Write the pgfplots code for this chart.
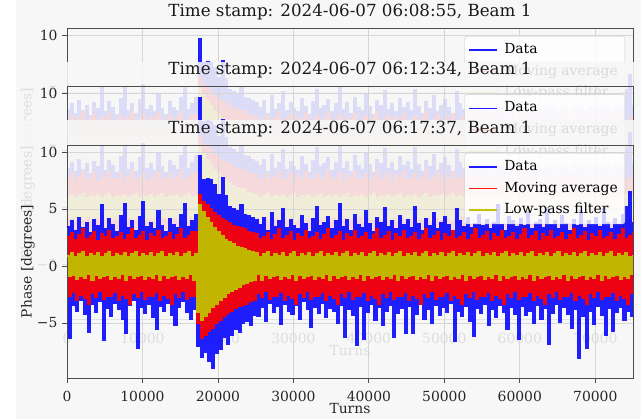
\documentclass[border=0pt]{standalone}
\usepackage{fontspec}
\setmainfont{DejaVu Serif}
\usepackage{pgfplots}
\usepackage{pgfplotstable}
\pgfplotsset{compat=1.18}

\newcommand\tickfont{\fontsize{13.95}{16}\selectfont}
\newcommand\titfont{\fontsize{16.76}{20}\selectfont}

\definecolor{mplblue}{rgb}{0,0,1}
\definecolor{mplred}{rgb}{1,0,0}
\definecolor{mplyellow}{rgb}{0.75,0.75,0}

% turn, raw phase, moving average, low-pass filtered phase
\pgfplotstableread{
x d m l
0 3.4 2.5 0.9
250 -6.3 -2.6 -0.9
500 3.9 2.9 1.1
750 -3.4 -2.3 -0.8
1000 3.1 2.3 0.8
1250 -3.9 -3.0 -1.1
1500 4.2 2.7 1.0
1750 -3.0 -2.5 -0.9
2000 3.3 3.2 1.2
2250 -4.2 -2.8 -1.0
2500 3.8 2.4 0.8
2750 -5.8 -3.3 -0.7
3000 2.9 2.6 1.0
3250 -3.3 -2.4 -1.2
3500 4.0 3.0 0.9
3750 -4.0 -2.7 -0.8
4000 3.5 2.2 1.1
4250 -3.1 -2.2 -1.0
4500 5.3 2.8 0.8
4750 -6.5 -2.9 -0.9
5000 3.2 2.5 1.0
5250 -3.7 -2.6 -0.8
5500 4.1 3.1 1.2
5750 -4.4 -2.6 -1.1
6000 3.6 2.4 0.8
6250 -3.2 -2.3 -0.9
6500 3.0 2.5 1.0
6750 -3.8 -3.0 -1.0
7000 4.4 2.9 0.9
7250 -4.6 -2.5 -0.7
7500 5.4 2.3 1.1
7750 -5.9 -2.8 -1.2
8000 3.3 2.7 0.8
8250 -3.4 -3.3 -0.8
8500 3.9 3.2 1.0
8750 -3.0 -2.4 -1.0
9000 3.1 2.4 1.2
9250 -7.2 -2.7 -0.9
9500 4.3 2.6 0.8
9750 -3.6 -2.2 -0.8
10000 5.6 3.0 1.0
10250 -4.1 -2.9 -1.1
10500 3.4 2.2 0.9
10750 -3.3 -2.6 -0.9
11000 3.8 2.8 1.1
11250 -4.5 -2.6 -1.0
11500 3.2 2.5 0.8
11750 -5.5 -2.3 -0.7
12000 4.8 3.1 1.0
12250 -3.5 -3.0 -1.2
12500 3.5 2.4 1.2
12750 -3.9 -2.5 -0.8
13000 3.0 2.5 0.8
13250 -3.2 -2.8 -1.0
13500 4.1 2.9 1.0
13750 -4.3 -3.3 -0.9
14000 3.6 2.3 0.9
14250 -5.2 -2.4 -0.8
14500 3.3 2.7 1.1
14750 -3.6 -2.7 -1.1
15000 4.5 3.2 0.8
15250 -3.1 -2.2 -0.9
15500 5.4 2.4 1.0
15750 -4.0 -2.9 -1.0
16000 3.4 2.6 1.2
16250 -4.6 -2.6 -0.7
16500 3.9 3.0 0.8
16750 -3.8 -2.6 -1.2
17000 4.5 3.0 1.0
17250 -7.0 -5.0 -4.0
17500 9.6 6.2 5.3
17750 -8.0 -6.3 -4.7
18000 7.5 5.6 4.7
18250 -7.5 -6.0 -4.4
18500 7.6 5.3 4.2
18750 -8.3 -5.7 -4.0
19000 7.5 5.0 3.8
19250 -8.9 -5.4 -3.6
19500 7.1 4.6 3.3
19750 -7.6 -5.0 -3.3
20000 6.2 4.4 3.0
20250 -7.3 -4.7 -3.0
20500 7.7 4.1 2.6
20750 -6.2 -4.4 -2.7
21000 6.1 3.9 2.3
21250 -6.8 -4.1 -2.4
21500 5.2 3.8 2.1
21750 -6.0 -3.9 -2.2
22000 5.0 3.5 1.9
22250 -5.5 -3.7 -2.0
22500 4.8 3.4 1.7
22750 -5.8 -3.5 -1.8
23000 5.3 3.3 1.6
23250 -5.0 -3.4 -1.6
23500 4.5 3.2 1.5
23750 -4.8 -3.3 -1.5
24000 4.4 3.0 1.3
24250 -5.2 -3.1 -1.3
24500 4.2 2.9 1.2
24750 -4.3 -3.0 -1.2
25000 4.0 2.8 1.1
25250 -4.4 -2.4 -0.7
25500 3.6 2.4 0.8
25750 -3.6 -2.7 -1.2
26000 4.2 2.5 1.0
26250 -4.8 -2.2 -0.8
26500 3.1 2.9 1.2
26750 -3.2 -2.9 -1.0
27000 4.6 2.3 0.8
27250 -4.0 -2.6 -0.9
27500 3.4 2.7 1.0
27750 -3.5 -2.6 -0.8
28000 3.9 3.2 0.9
28250 -5.1 -2.3 -1.1
28500 5.0 2.4 1.1
28750 -3.3 -3.0 -0.9
29000 3.3 2.6 0.8
29250 -3.9 -2.5 -1.0
29500 4.0 3.0 1.0
29750 -4.2 -2.8 -0.7
30000 3.5 2.2 1.2
30250 -3.4 -3.3 -1.2
30500 3.2 2.8 0.8
30750 -4.6 -2.4 -0.8
31000 4.4 2.5 1.0
31250 -3.1 -2.7 -1.0
31500 3.7 3.1 0.9
31750 -3.8 -2.2 -0.9
32000 3.0 2.4 1.1
32250 -5.3 -2.9 -0.8
32500 4.1 2.5 0.8
32750 -3.6 -2.6 -1.1
33000 5.2 2.9 1.0
33250 -4.1 -2.6 -0.9
33500 3.5 2.3 1.2
33750 -3.2 -2.3 -1.0
34000 3.8 2.7 0.8
34250 -4.5 -3.0 -0.7
34500 4.3 3.2 1.0
34750 -3.7 -2.5 -1.2
35000 3.2 2.4 0.9
35250 -3.9 -2.8 -0.8
35500 3.9 2.6 1.1
35750 -5.0 -3.3 -1.0
36000 5.4 3.0 0.8
36250 -3.4 -2.4 -0.9
36500 3.4 2.2 1.0
36750 -6.2 -2.7 -0.8
37000 4.0 2.8 1.2
37250 -3.8 -2.2 -1.1
37500 3.1 2.5 0.8
37750 -4.3 -2.9 -0.9
38000 4.5 3.1 1.0
38250 -6.9 -2.6 -1.0
38500 3.6 2.4 0.9
38750 -3.5 -2.6 -0.7
39000 3.3 2.5 1.1
39250 -6.4 -2.3 -1.2
39500 4.8 2.9 0.8
39750 -4.0 -3.0 -0.8
40000 3.7 2.3 1.0
40250 -3.3 -2.5 -1.0
40500 3.0 2.7 1.2
40750 -4.7 -2.8 -0.9
41000 4.2 3.2 0.8
41250 -3.6 -3.3 -0.8
41500 3.8 2.4 1.0
41750 -5.2 -2.4 -1.1
42000 5.1 2.6 0.9
42250 -3.9 -2.7 -0.9
42500 3.4 3.0 1.1
42750 -3.4 -2.2 -1.0
43000 3.9 2.2 0.8
43250 -6.2 -2.9 -0.7
43500 3.2 2.8 1.0
43750 -4.1 -2.6 -1.2
44000 4.4 2.5 1.2
44250 -3.7 -2.6 -0.8
44500 3.6 3.1 0.8
44750 -5.9 -2.3 -1.0
45000 4.0 2.4 1.0
45250 -3.5 -3.0 -0.9
45500 3.3 2.5 0.9
45750 -5.9 -2.5 -0.8
46000 5.2 2.9 1.1
46250 -4.2 -2.8 -1.1
46500 3.7 2.3 0.8
46750 -3.3 -3.3 -0.9
47000 3.1 2.7 1.0
47250 -4.6 -2.4 -1.0
47500 4.1 3.2 1.2
47750 -3.8 -2.7 -0.7
48000 3.5 2.4 0.8
48250 -5.0 -2.2 -1.2
48500 4.6 2.6 1.0
48750 -3.4 -2.9 -0.8
49000 3.2 3.0 0.9
49250 -4.3 -2.6 -1.0
49500 3.8 2.2 1.1
49750 -3.6 -2.6 -0.9
50000 4.3 2.8 0.8
50250 -4.0 -2.3 -0.8
50500 3.6 2.5 1.0
50750 -3.2 -3.0 -1.1
51000 3.1 3.1 1.2
51250 -6.6 -2.5 -0.9
51500 5.0 2.4 0.8
51750 -3.9 -2.8 -1.0
52000 3.9 2.5 1.0
52250 -4.4 -3.3 -0.7
52500 3.4 2.9 0.9
52750 -3.5 -2.4 -1.2
53000 4.2 2.3 1.1
53250 -4.8 -2.7 -0.8
53500 3.3 2.7 0.8
53750 -6.1 -2.2 -1.0
54000 3.7 3.2 1.0
54250 -3.7 -2.9 -0.9
54500 4.5 2.4 1.2
54750 -4.1 -2.6 -0.8
55000 3.5 2.6 0.8
55250 -3.3 -2.6 -1.1
55500 4.0 3.0 1.0
55750 -5.2 -2.3 -0.9
56000 3.2 2.2 0.9
56250 -3.8 -3.0 -1.0
56500 3.8 2.8 1.1
56750 -4.5 -2.5 -0.7
57000 5.3 2.5 0.8
57250 -3.4 -2.8 -1.2
57500 3.6 3.1 1.0
57750 -4.0 -3.3 -0.8
58000 3.1 2.4 1.2
58250 -5.5 -2.4 -1.0
58500 4.3 2.5 0.8
58750 -3.6 -2.7 -0.9
59000 3.9 2.9 1.0
59250 -4.2 -2.2 -0.8
59500 3.4 2.3 0.9
59750 -6.4 -2.9 -1.1
60000 4.1 2.7 1.1
60250 -3.5 -2.6 -0.9
60500 3.5 3.2 0.8
60750 -4.3 -2.6 -1.0
61000 4.7 2.4 1.0
61250 -3.9 -2.3 -0.7
61500 3.2 2.6 1.2
61750 -5.0 -3.0 -1.2
62000 3.8 3.0 0.8
62250 -3.4 -2.5 -0.8
62500 4.0 2.2 1.0
62750 -4.6 -2.8 -1.0
63000 3.3 2.8 0.9
63250 -3.7 -3.3 -0.9
63500 5.1 2.5 1.1
63750 -6.8 -2.4 -0.8
64000 3.6 3.1 0.8
64250 -4.1 -2.7 -1.1
64500 3.9 2.4 1.0
64750 -3.3 -2.2 -0.9
65000 3.2 2.5 1.2
65250 -4.9 -2.9 -1.0
65500 4.4 2.9 0.8
65750 -3.6 -2.6 -0.7
66000 3.7 2.3 1.0
66250 -4.2 -2.6 -1.2
66500 3.1 2.7 0.9
66750 -5.4 -2.3 -0.8
67000 4.0 3.2 1.1
67250 -3.8 -3.0 -1.0
67500 3.5 2.4 0.8
67750 -8.1 -2.5 -0.9
68000 4.8 2.6 1.0
68250 -4.4 -2.8 -0.8
68500 3.3 3.0 1.2
68750 -7.2 -3.3 -1.1
69000 3.9 2.2 0.8
69250 -3.9 -2.4 -0.9
69500 3.6 2.8 1.0
69750 -5.1 -2.7 -1.0
70000 4.2 2.5 0.9
70250 -3.5 -2.2 -0.7
70500 3.4 3.1 1.1
70750 -4.3 -2.9 -1.2
71000 5.0 2.4 0.8
71250 -6.0 -2.6 -0.8
71500 3.8 2.5 1.0
71750 -3.7 -2.6 -1.0
72000 3.2 2.9 1.2
72250 -5.7 -2.3 -0.9
72500 4.1 2.3 0.8
72750 -4.0 -3.0 -0.8
73000 3.6 2.7 1.0
73250 -3.6 -2.5 -1.1
73500 4.5 3.2 0.9
73750 -4.7 -2.8 -0.9
74000 5.2 2.4 1.1
74250 -3.9 -3.3 -1.0
74500 6.5 2.6 0.8
74750 -4.4 -2.4 -0.7
75000 3.9 3.0 1.0
}\phasedata

\pgfplotsset{
  beamfig/.style={
    width=566bp, height=233bp, scale only axis,
    anchor=south west,
    xmin=0, xmax=75000, ymin=-9.82, ymax=10.61,
    scaled x ticks=false,
    xtick={0,10000,20000,30000,40000,50000,60000,70000},
    xticklabels={0,10000,20000,30000,40000,50000,60000,70000},
    ytick={-5,0,5,10},
    yticklabels={−5,0,5,10},
    tick pos=left, tick align=outside,
    major tick length=4.5bp,
    every tick/.style={black!70, line width=0.8bp},
    axis line style={black!70, line width=0.8bp},
    grid=major,
    major grid style={black!16, line width=0.8bp},
    ticklabel style={font=\tickfont, text=black!85},
    xticklabel style={anchor=base, yshift=-19bp},
    yticklabel style={anchor=east, xshift=-1.5bp},
    xlabel={Turns},
    xlabel style={at={(axis description cs:0.5,0)}, anchor=base,
      yshift=-36bp, font=\tickfont, text=black!85},
    ylabel={Phase [degrees]},
    ylabel style={at={(axis description cs:-0.0689,0.5)}, anchor=center,
      font=\tickfont, text=black!85},
    title style={at={(axis description cs:0.5,1)}, anchor=base,
      yshift=6bp, font=\titfont, text=black!90},
    legend cell align=left,
    legend style={at={(axis description cs:0.9859,0.9657)},
      anchor=north east, draw=black!20, fill=white, fill opacity=0.8,
      text opacity=1, rounded corners=2.5bp, font=\tickfont,
      inner sep=3bp, row sep=0bp, column sep=3bp,
      nodes={text height=10.3bp, text depth=3.3bp, inner sep=4bp}},
    legend image code/.code={\draw[#1, line width=1.5bp] (0bp,0bp) -- (28bp,0bp);},
  },
  % each sample column is drawn as a vertical stroke from one extreme to the next
  rawphase/.style={mplblue, draw opacity=0.88, line width=2.2bp, const plot},
  movavg/.style={mplred, draw opacity=0.92, line width=2.2bp, const plot},
  lowpass/.style={mplyellow, draw opacity=0.95, line width=2.2bp, const plot},
}

\newcommand\beamplots{%
  \addplot[rawphase] table[x=x, y=d] {\phasedata};
  \addlegendentry{Data}
  \addplot[movavg] table[x=x, y=m] {\phasedata};
  \addlegendentry{Moving average}
  \addplot[lowpass] table[x=x, y=l] {\phasedata};
  \addlegendentry{Low-pass filter}
}

\begin{document}
\begin{tikzpicture}
\useasboundingbox (0bp,0bp) rectangle (641bp,419bp);
\fill[black!3] (16bp,0bp) rectangle (641bp,419bp);

\begin{axis}[beamfig, at={(67bp,158bp)},
  title={Time stamp: 2024-06-07 06:08:55, Beam 1}]
  \beamplots
\end{axis}

\fill[black!3, opacity=0.88] (16bp,0bp) rectangle (641bp,357bp);

\begin{axis}[beamfig, at={(67bp,99.5bp)},
  title={Time stamp: 2024-06-07 06:12:34, Beam 1}]
  \beamplots
\end{axis}

\fill[black!3, opacity=0.88] (16bp,0bp) rectangle (641bp,299bp);

\begin{axis}[beamfig, at={(67bp,41bp)},
  title={Time stamp: 2024-06-07 06:17:37, Beam 1}]
  \beamplots
\end{axis}
\end{tikzpicture}
\end{document}
